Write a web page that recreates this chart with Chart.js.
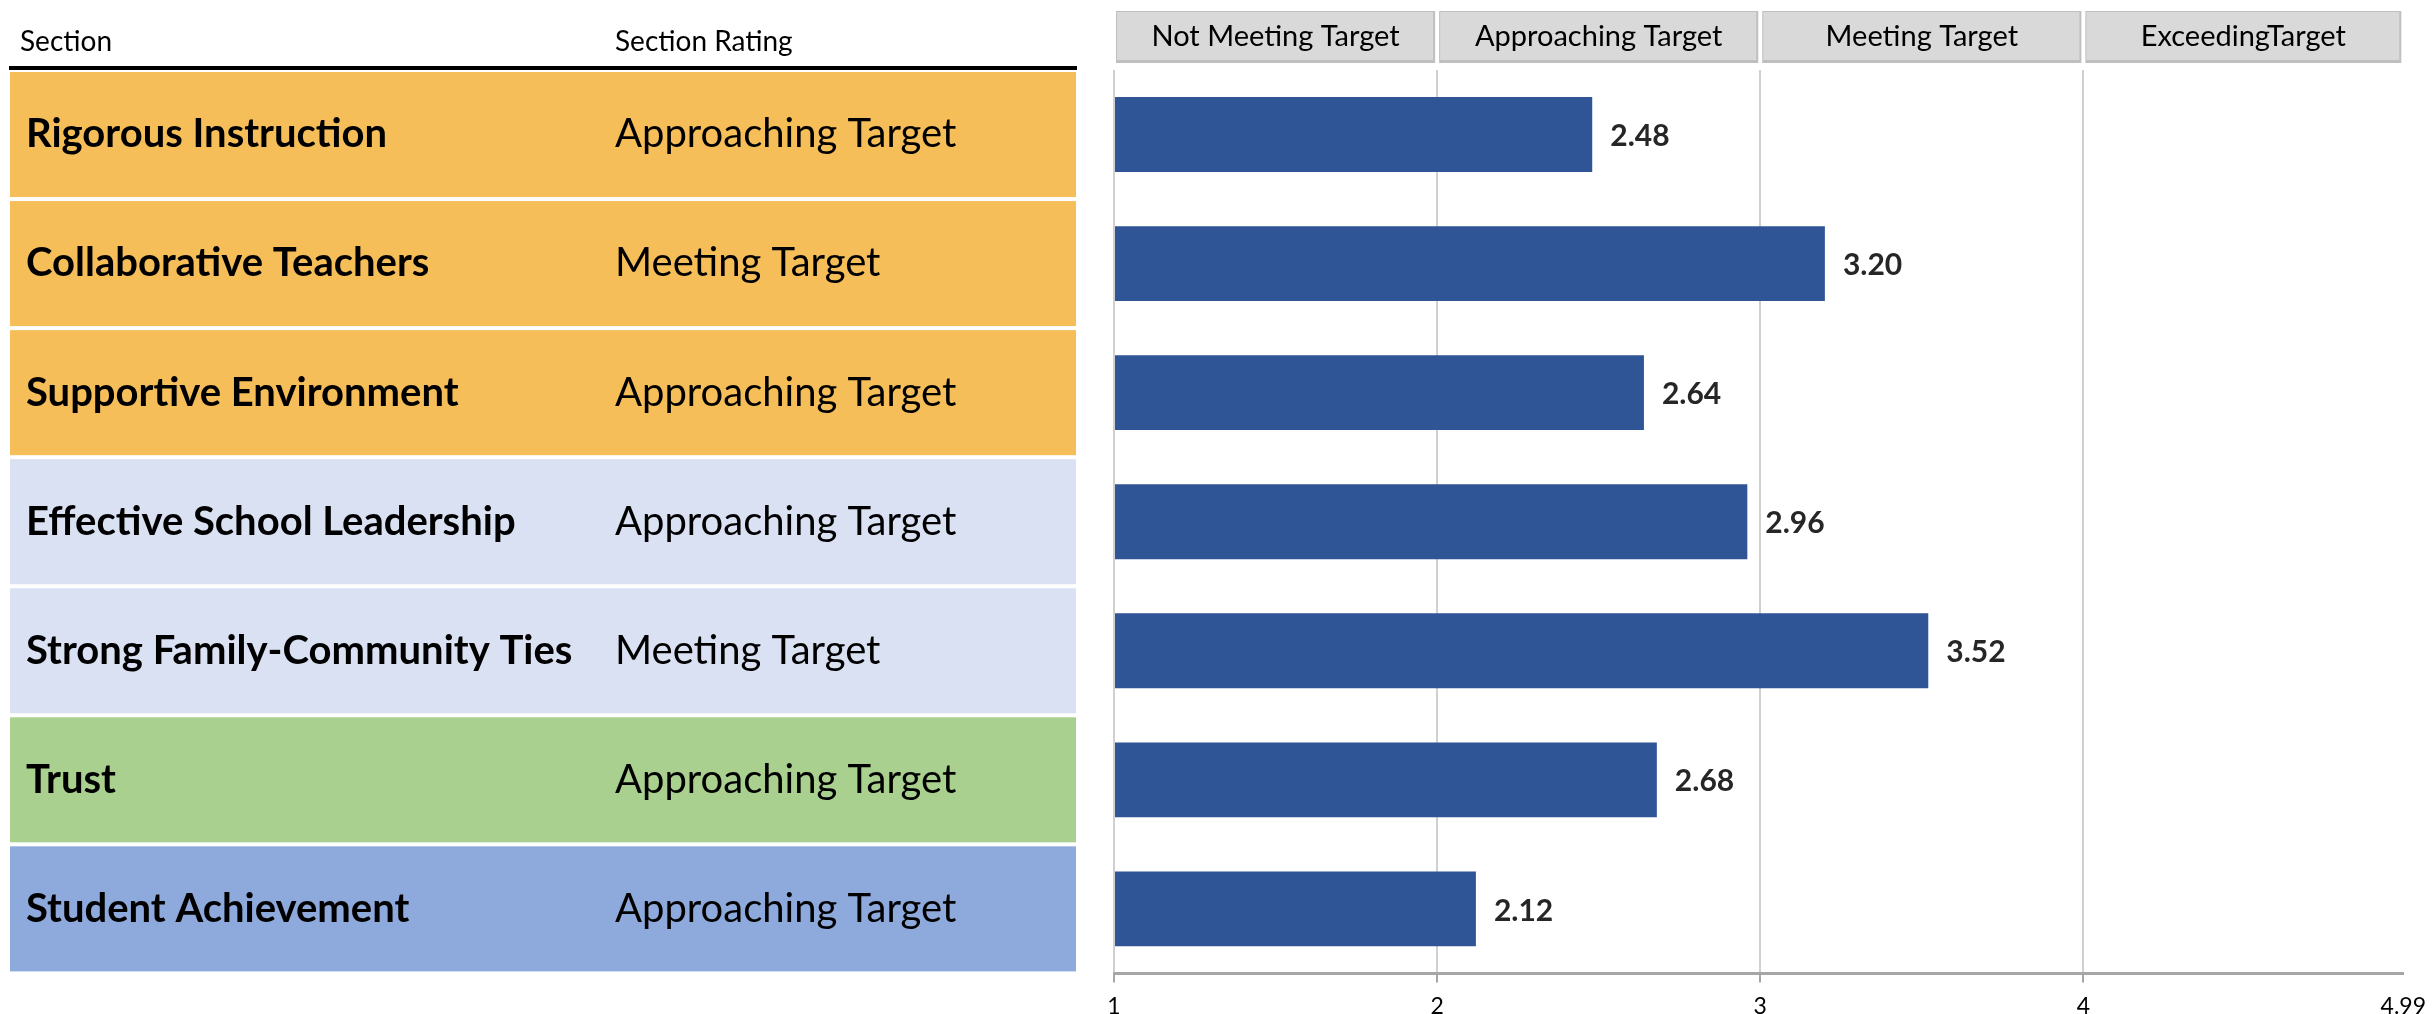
<!DOCTYPE html>
<html>
<head>
<meta charset="utf-8">
<script src="https://cdn.jsdelivr.net/npm/chart.js@4/dist/chart.umd.min.js"></script>
<style>
  html, body { margin: 0; padding: 0; background: #fff; }
  #wrap { width: 2436px; height: 1014px; }
</style>
</head>
<body>
<div id="wrap"><canvas id="chart"></canvas></div>
<script>
// Dados do gráfico
const sections = [
    'Rigorous Instruction',
    'Collaborative Teachers',
    'Supportive Environment',
    'Effective School Leadership',
    'Strong Family-Community Ties',
    'Trust',
    'Student Achievement'
];
const ratings = [
    'Approaching Target',
    'Meeting Target',
    'Approaching Target',
    'Approaching Target',
    'Meeting Target',
    'Approaching Target',
    'Approaching Target'
];
const scores = [2.48, 3.20, 2.64, 2.96, 3.52, 2.68, 2.12];
const bandLabels = ['Not Meeting Target', 'Approaching Target', 'Meeting Target', 'ExceedingTarget'];
const tickValues = [1, 2, 3, 4, 4.99];

// cores das linhas da tabela
const rowColors = ['#F6BE58', '#F6BE58', '#F6BE58', '#DAE1F3', '#DAE1F3', '#A9D08E', '#8EA9DB'];

const FONT = 'Lato, "Open Sans", sans-serif';

// Tabela à esquerda + cabeçalhos das faixas
const tablePlugin = {
    id: 'tablePlugin',
    beforeDraw(chart) {
        const ctx = chart.ctx;
        const y = chart.scales.y;
        const x = chart.scales.x;
        const band = y.height / sections.length;

        ctx.save();
        // cabeçalho da tabela
        ctx.fillStyle = '#000';
        ctx.font = '28px ' + FONT;
        ctx.textBaseline = 'middle';
        ctx.textAlign = 'left';
        ctx.fillText('Section', 20, 42);
        ctx.fillText('Section Rating', 615, 42);
        ctx.fillRect(9, 66, 1068, 4);

        sections.forEach((name, i) => {
            const cy = y.getPixelForValue(i);
            const top = cy - band / 2 + 2;
            const h = band - 4;
            ctx.fillStyle = rowColors[i];
            ctx.fillRect(10, top, 1066, h);
            ctx.fillStyle = '#000';
            ctx.font = 'bold 40px ' + FONT;
            ctx.fillText(name, 26, cy);
            ctx.font = '40px ' + FONT;
            ctx.fillText(ratings[i], 615, cy);
        });

        // caixas de faixa acima do gráfico
        bandLabels.forEach((label, i) => {
            const x0 = x.getPixelForValue(tickValues[i]) + 2;
            const x1 = x.getPixelForValue(tickValues[i + 1]) - 2;
            ctx.fillStyle = '#BFBFBF';
            ctx.fillRect(x0, 11, x1 - x0, 52);
            ctx.fillStyle = '#D9D9D9';
            ctx.fillRect(x0 + 1, 12, x1 - x0 - 3, 48);
            ctx.fillStyle = '#000';
            ctx.font = '29px ' + FONT;
            ctx.textAlign = 'center';
            ctx.fillText(label, (x0 + x1) / 2, 37);
            ctx.textAlign = 'left';
        });
        ctx.restore();
    },
    afterDatasetsDraw(chart) {
        const ctx = chart.ctx;
        const meta = chart.getDatasetMeta(0);
        ctx.save();
        ctx.fillStyle = '#262626';
        ctx.font = 'bold 30px ' + FONT;
        ctx.textBaseline = 'middle';
        ctx.textAlign = 'left';
        meta.data.forEach((bar, i) => {
            ctx.fillText(scores[i].toFixed(2), bar.x + 18, bar.y + 2);
        });
        ctx.restore();
    }
};

new Chart(document.getElementById('chart'), {
    type: 'bar',
    data: {
        labels: sections,
        datasets: [{
            label: 'Score',
            data: scores,
            backgroundColor: '#2F5597',
            borderWidth: 0,
            categoryPercentage: 1,
            barPercentage: 0.58,
            base: 1
        }]
    },
    options: {
        indexAxis: 'y',
        responsive: true,
        maintainAspectRatio: false,
        animation: false,
        layout: {
            padding: { left: 1114, right: 25, top: 70, bottom: -16 }
        },
        plugins: {
            legend: { display: false },
            tooltip: { enabled: false }
        },
        scales: {
            x: {
                min: 1,
                max: 4.99,
                afterBuildTicks: function (axis) {
                    axis.ticks = tickValues.map(v => ({ value: v }));
                },
                ticks: {
                    autoSkip: false,
                    maxRotation: 0,
                    padding: 10,
                    color: '#000',
                    font: { family: FONT, size: 23 },
                    callback: function (value) {
                        return String(value);
                    }
                },
                grid: {
                    color: function (c) {
                        return c.tick && c.tick.value > 4.5 ? 'rgba(0,0,0,0)' : '#D0D0D0';
                    },
                    lineWidth: 2,
                    drawTicks: true,
                    tickLength: 9,
                    tickColor: function (c) {
                        return c.tick && c.tick.value > 4.5 ? 'rgba(0,0,0,0)' : '#A6A6A6';
                    }
                },
                border: { display: true, color: '#A6A6A6', width: 3 }
            },
            y: {
                display: false
            }
        }
    },
    plugins: [tablePlugin]
});
</script>
</body>
</html>
